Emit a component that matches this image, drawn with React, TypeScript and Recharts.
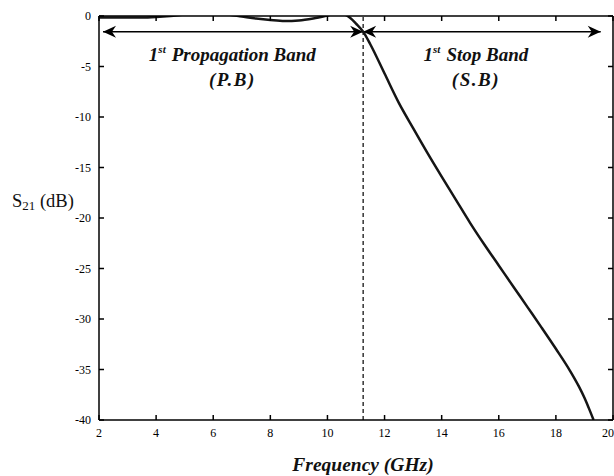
import React from 'react'
import { LineChart, Line, XAxis, YAxis, ReferenceLine, ReferenceDot, Label } from 'recharts'

const freqGHz = [
  2, 2.5, 3, 3.5, 4, 4.5, 5, 5.5, 6, 6.5, 7, 7.5, 8, 8.5, 9, 9.5, 10, 10.3, 10.6, 10.8, 11.0, 11.25,
  11.5, 12.0, 12.5, 13.0, 13.5, 14.0, 14.5, 15.0, 15.5, 16.0, 16.5, 17.0, 17.5, 18.0, 18.5, 18.8,
  19.0, 19.15, 19.32,
]
const s21dB = [
  -0.15, -0.15, -0.15, -0.15, -0.1, 0, 0.15, 0.25, 0.25, 0.15, -0.05, -0.25, -0.4, -0.5, -0.45, -0.25,
  0.05, 0.25, 0.15, -0.2, -0.75, -1.55, -2.8, -5.7, -8.6, -11.1, -13.55, -15.9, -18.2, -20.5, -22.65,
  -24.7, -26.75, -28.8, -30.85, -32.95, -35.15, -36.65, -37.8, -38.8, -40,
]

const xTicks = [2, 4, 6, 8, 10, 12, 14, 16, 18, 20]
const yTicks = [0, -5, -10, -15, -20, -25, -30, -35, -40]

const cutoffGHz = 11.25
const arrowLevel = -1.55
const passBandSpan = [2.14, 11.25]
const stopBandSpan = [11.25, 19.57]

const bandLabels = [
  { x: 6.67, y: -4.45, title: 'Propagation Band', abbr: '(P.B)' },
  { x: 15.2, y: -4.45, title: 'Stop Band', abbr: '(S.B)' },
]

const data = freqGHz.map((f, i) => ({ f, s21: s21dB[i] }))

const serif = '"Liberation Serif", "Times New Roman", serif'
const tickStyle = { fontFamily: serif, fontSize: 12, fill: '#000' }
const axisLineStyle = { stroke: '#000', strokeWidth: 1.5 }
const tickLineStyle = { stroke: '#000', strokeWidth: 1.5 }

function arrowHead(x: number, y: number, dir: number) {
  // dir = -1 points left, 1 points right
  const len = 13
  const half = 6
  const notch = 4
  return `M${x},${y} L${x - dir * len},${y - half} L${x - dir * (len - notch)},${y} L${x - dir * len},${y + half} Z`
}

function DoubleArrow(props: any) {
  const { x1, y1, x2, y2 } = props
  return (
    <g>
      <line x1={x1} y1={y1} x2={x2} y2={y2} stroke="#000" strokeWidth={1.5} />
      <path d={arrowHead(x1, y1, -1)} fill="#000" />
      <path d={arrowHead(x2, y2, 1)} fill="#000" />
    </g>
  )
}

function BandText(label: { title: string; abbr: string }) {
  return (props: any) => {
    const vb = props.viewBox || {}
    const cx = vb.x + (vb.width || 0) / 2
    const cy = vb.y + (vb.height || 0) / 2
    return (
      <g fontFamily={serif} fontWeight="bold" fontStyle="italic" fill="#111">
        <text x={cx} y={cy} textAnchor="middle" fontSize={19}>
          <tspan>1</tspan>
          <tspan fontSize={11} dy={-8}>st</tspan>
          <tspan dy={8} dx={6}>{label.title}</tspan>
        </text>
        <text x={cx} y={cy + 25} textAnchor="middle" fontSize={19} letterSpacing={1.5}>
          {label.abbr}
        </text>
      </g>
    )
  }
}

export default function App() {
  return (
    <div>
      <style>{`body{margin:0;overflow:hidden;background:#fff}`}</style>
      <LineChart width={614} height={476} data={data} margin={{ top: 15, right: 0, left: 39, bottom: 16 }}>
        <XAxis
          dataKey="f"
          type="number"
          domain={[2, 20]}
          ticks={xTicks}
          height={40}
          tick={tickStyle}
          tickSize={-5}
          tickMargin={13}
          axisLine={axisLineStyle}
          tickLine={tickLineStyle}
          allowDataOverflow
        >
          <Label
            content={(p: any) => {
              const vb = p.viewBox
              return (
                <text
                  x={vb.x + vb.width / 2 + 7}
                  y={vb.y + 51}
                  textAnchor="middle"
                  fontFamily={serif}
                  fontWeight="bold"
                  fontStyle="italic"
                  fontSize={19.5}
                  fill="#111"
                >
                  Frequency (GHz)
                </text>
              )
            }}
          />
        </XAxis>
        <XAxis
          xAxisId="top"
          orientation="top"
          dataKey="f"
          type="number"
          domain={[2, 20]}
          ticks={xTicks}
          height={1}
          tickFormatter={() => ''}
          tickSize={-5}
          axisLine={axisLineStyle}
          tickLine={tickLineStyle}
          allowDataOverflow
        />
        <YAxis
          type="number"
          domain={[-40, 0]}
          ticks={yTicks}
          width={60}
          tick={tickStyle}
          tickSize={-5}
          tickMargin={13}
          axisLine={axisLineStyle}
          tickLine={tickLineStyle}
          allowDataOverflow
        >
          <Label
            content={(p: any) => {
              const vb = p.viewBox
              return (
                <text x={vb.x - 27} y={vb.y + vb.height / 2 - 11} fontFamily={serif} fontSize={18.5} fill="#111">
                  <tspan>S</tspan>
                  <tspan fontSize={13} dy={3}>21</tspan>
                  <tspan dy={-3}> (dB)</tspan>
                </text>
              )
            }}
          />
        </YAxis>
        <YAxis
          yAxisId="right"
          orientation="right"
          type="number"
          domain={[-40, 0]}
          ticks={yTicks}
          width={1}
          tickFormatter={() => ''}
          tickSize={-5}
          axisLine={axisLineStyle}
          tickLine={tickLineStyle}
          allowDataOverflow
        />
        <ReferenceLine x={cutoffGHz} stroke="#000" strokeWidth={1.2} strokeDasharray="4 3" />
        <ReferenceLine
          segment={[
            { x: passBandSpan[0], y: arrowLevel },
            { x: passBandSpan[1], y: arrowLevel },
          ]}
          shape={DoubleArrow}
        />
        <ReferenceLine
          segment={[
            { x: stopBandSpan[0], y: arrowLevel },
            { x: stopBandSpan[1], y: arrowLevel },
          ]}
          shape={DoubleArrow}
        />
        {bandLabels.map((b) => (
          <ReferenceDot
            key={b.title}
            x={b.x}
            y={b.y}
            r={0}
            fill="none"
            stroke="none"
            label={BandText(b)}
          />
        ))}
        <Line
          type="monotone"
          dataKey="s21"
          stroke="#151515"
          strokeWidth={2.5}
          dot={false}
          isAnimationActive={false}
        />
      </LineChart>
    </div>
  )
}
